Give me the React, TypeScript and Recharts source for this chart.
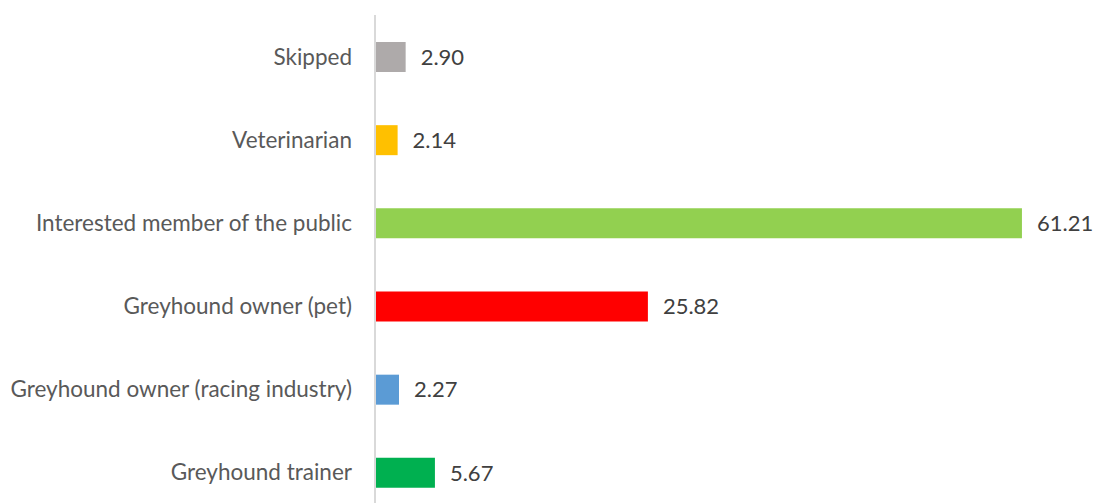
import { BarChart, Bar, XAxis, YAxis, Cell, LabelList } from 'recharts'

// ─── Data ─────────────────────────────────────────────────────────────────────

const categories = [
  'Skipped',
  'Veterinarian',
  'Interested member of the public',
  'Greyhound owner (pet)',
  'Greyhound owner (racing industry)',
  'Greyhound trainer',
]

const values = [2.9, 2.14, 61.21, 25.82, 2.27, 5.67]

const barColors = ['#AEAAAA', '#FFC000', '#92D050', '#FF0000', '#5B9BD5', '#00B050']

const data = categories.map((name, i) => ({ name, value: values[i] }))

const FONT = 'Lato, "Open Sans", sans-serif'

// ─── Component ────────────────────────────────────────────────────────────────

export default function App() {
  return (
    <div style={{ position: 'fixed', left: 0, top: 0, width: 1094, height: 503, overflow: 'hidden', background: '#fff' }}>
      <BarChart
        width={1094}
        height={514}
        data={data}
        layout="vertical"
        margin={{ top: 15, right: 32, left: 0, bottom: 0 }}
      >
        <XAxis type="number" domain={[0, 65]} hide />
        <YAxis
          type="category"
          dataKey="name"
          width={375}
          axisLine={{ stroke: '#D9D9D9', strokeWidth: 2 }}
          tickLine={false}
          tickMargin={17}
          tick={{ fontSize: 22.5, fill: '#595959', fontFamily: FONT }}
          interval={0}
        />
        <Bar dataKey="value" barSize={30} isAnimationActive={false}>
          {data.map((d, i) => (
            <Cell key={d.name} fill={barColors[i]} />
          ))}
          <LabelList
            dataKey="value"
            position="right"
            offset={15}
            formatter={(v: number) => v.toFixed(2)}
            style={{ fontSize: 22, fill: '#404040', fontFamily: FONT }}
          />
        </Bar>
      </BarChart>
    </div>
  )
}
